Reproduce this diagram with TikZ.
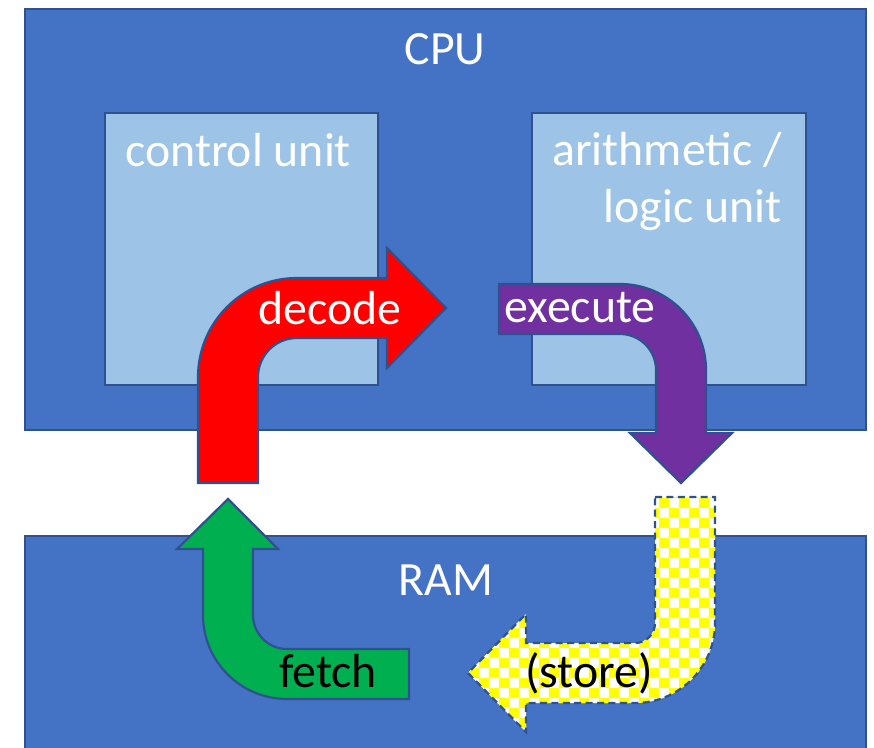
\documentclass[tikz,border=0pt]{standalone}
\usepackage{fontspec}
\setmainfont{Carlito}
\usetikzlibrary{patterns}
\definecolor{cpublue}{HTML}{4472C4}
\definecolor{edgeblue}{HTML}{2F528F}
\definecolor{unitblue}{HTML}{9DC3E6}
\definecolor{execpurple}{HTML}{7030A0}
\definecolor{fetchgreen}{HTML}{00B050}
\begin{document}
\begin{tikzpicture}[x=0.02cm,y=0.02cm,
  outline/.style={draw=edgeblue, line width=1.25pt},
  bigbox/.style={outline, fill=cpublue},
  unitbox/.style={outline, fill=unitblue},
  bentarrow/.style={outline, line join=miter},
  lbl/.style={font=\fontsize{27.2}{33}\selectfont, inner sep=0pt, anchor=base}]
\fill[white] (0,0) rectangle (874,747);
\useasboundingbox (0,0) rectangle (874,747);

\draw[bigbox] (25,317) rectangle (866,738);
\draw[bigbox] (25,-10) rectangle (866,211);
\draw[unitbox] (105,362) rectangle (378,634);
\draw[unitbox] (532,362) rectangle (806,634);

\node[lbl, text=white] (cpulabel) at (445,682) {CPU};
\node[lbl, text=white] (ramlabel) at (446,152) {RAM};
\node[lbl, text=white, anchor=base west] (cu) at (125,580) {control unit};
\node[lbl, text=white, anchor=base east, align=right] (alu) at (782,524)
  {arithmetic /\\logic unit};

\draw[bentarrow, fill=red] (198,264) -- (198,370) arc[start angle=180, end angle=90, radius=99]
  -- (387,469) -- (387,499) -- (446,439) -- (387,379) -- (387,409) -- (297,409)
  arc[start angle=90, end angle=180, radius=39] -- (258,264) -- cycle;
\node[lbl, text=white] (decode) at (330,422) {decode};

\draw[bentarrow, fill=execpurple] (499,463) -- (620,463) arc[start angle=90, end angle=0, radius=86]
  -- (706,314) -- (732,314) -- (681,264) -- (630,314) -- (656,314) -- (656,377)
  arc[start angle=0, end angle=90, radius=36] -- (499,413) -- cycle;
\node[lbl, text=white] (execute) at (580,424) {execute};

\draw[bentarrow, dash pattern=on 4pt off 2.5pt, preaction={fill=white},
  pattern=checkerboard, pattern color=yellow]
  (655,250) -- (715,250) -- (715,124) arc[start angle=0, end angle=-90, radius=80]
  -- (526,44) -- (526,15) -- (468,74) -- (526,133) -- (526,104) -- (635,104)
  arc[start angle=-90, end angle=0, radius=20] -- cycle;
\node[lbl] (store) at (589,60) {(store)};

\draw[bentarrow, fill=fetchgreen] (409,98) -- (287,98) arc[start angle=270, end angle=180, radius=34]
  -- (253,198) -- (278,198) -- (228,248) -- (177,198) -- (203,198) -- (203,132)
  arc[start angle=180, end angle=270, radius=84] -- (409,48) -- cycle;
\node[lbl] (fetch) at (328,60) {fetch};
\end{tikzpicture}
\end{document}
